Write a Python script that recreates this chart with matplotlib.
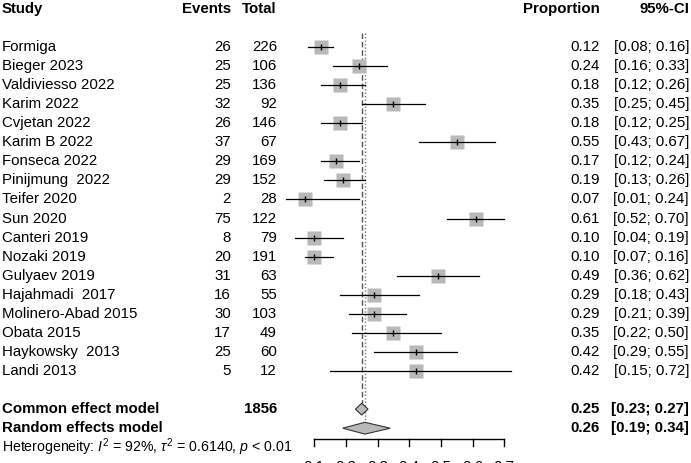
import matplotlib
matplotlib.use("Agg")
import matplotlib.pyplot as plt
from matplotlib.transforms import blended_transform_factory

# =========================
# DATOS
# =========================
studies = ["Formiga", "Bieger 2023", "Valdiviesso 2022", "Karim 2022", "Cvjetan 2022",
           "Karim B 2022", "Fonseca 2022", "Pinijmung  2022", "Teifer 2020", "Sun 2020",
           "Canteri 2019", "Nozaki 2019", "Gulyaev 2019", "Hajahmadi  2017",
           "Molinero-Abad 2015", "Obata 2015", "Haykowsky  2013", "Landi 2013"]
events = [26, 25, 25, 32, 26, 37, 29, 29, 2, 75, 8, 20, 31, 16, 30, 17, 25, 5]
totals = [226, 106, 136, 92, 146, 67, 169, 152, 28, 122, 79, 191, 63, 55, 103, 49, 60, 12]
props = [0.12, 0.24, 0.18, 0.35, 0.18, 0.55, 0.17, 0.19, 0.07, 0.61,
         0.10, 0.10, 0.49, 0.29, 0.29, 0.35, 0.42, 0.42]
ci_lo = [0.08, 0.16, 0.12, 0.25, 0.12, 0.43, 0.12, 0.13, 0.01, 0.52,
         0.04, 0.07, 0.36, 0.18, 0.21, 0.22, 0.29, 0.15]
ci_hi = [0.16, 0.33, 0.26, 0.45, 0.25, 0.67, 0.24, 0.26, 0.24, 0.70,
         0.19, 0.16, 0.62, 0.43, 0.39, 0.50, 0.55, 0.72]

total_n = 1856
common = (0.25, 0.23, 0.27)
random_ = (0.26, 0.19, 0.34)
ticks = [0.1, 0.2, 0.3, 0.4, 0.5, 0.6, 0.7]

# =========================
# FIGURA
# =========================
plt.rcParams["font.family"] = ["Liberation Sans", "DejaVu Sans"]
plt.rcParams["mathtext.fontset"] = "custom"
plt.rcParams["mathtext.rm"] = "Liberation Sans"
plt.rcParams["mathtext.it"] = "Liberation Sans:italic"

W, H = 691, 463
fig = plt.figure(figsize=(W / 100, H / 100), dpi=100)
ax = fig.add_axes([0, 0, 1, 1])
ax.axis("off")

# escala: 0.1 -> px 314.2, 0.7 -> px 504.3 ; fila 0 -> px 47, paso 19.06
ppu = (504.3 - 314.2) / 0.6
ax.set_xlim(0.1 - 314.2 / ppu, 0.1 + (W - 314.2) / ppu)
row = 19.06
ax.set_ylim((H - 47) / row, -47 / row)

tr = blended_transform_factory(ax.transAxes, ax.transData)
fs = 10.8

def col(x_px, y, s, ha, bold=False, size=fs):
    ax.text(x_px / W, y, s, transform=tr, ha=ha, va="center", fontsize=size,
            fontweight="bold" if bold else "normal")

# encabezado
hy = -2
col(2, hy, "Study", "left", True)
col(231, hy, "Events", "right", True)
col(277, hy, "Total", "right", True)
col(600, hy, "Proportion", "right", True)
col(689, hy, "95%-CI", "right", True)

# estudios
for i, s in enumerate(studies):
    col(2, i, s, "left")
    col(231, i, str(events[i]), "right")
    col(277, i, str(totals[i]), "right")
    col(600, i, f"{props[i]:.2f}", "right")
    col(689, i, f"[{ci_lo[i]:.2f}; {ci_hi[i]:.2f}]", "right")
    ax.plot([ci_lo[i], ci_hi[i]], [i, i], color="black", lw=0.9, zorder=3)
    ax.plot(props[i], i, marker="s", ms=10.3, color="#b9b9b9", mec="none", zorder=2)
    ax.plot(props[i], i, marker="|", ms=5, color="black", mew=1, zorder=4)

n = len(studies)
yc, yr = n + 1, n + 2

# lineas verticales
ax.plot([common[0], common[0]], [-0.73, yc - 0.32], color="#555555", lw=1,
        ls=(0, (4, 2)), zorder=1)
ax.plot([random_[0], random_[0]], [-0.73, yr - 0.32], color="#777777", lw=1,
        ls=(0, (1, 1.5)), zorder=1)

# modelos
col(2, yc, "Common effect model", "left", True)
col(277, yc, str(total_n), "right", True)
col(600, yc, f"{common[0]:.2f}", "right", True)
col(689, yc, f"[{common[1]:.2f}; {common[2]:.2f}]", "right", True)
col(2, yr, "Random effects model", "left", True)
col(600, yr, f"{random_[0]:.2f}", "right", True)
col(689, yr, f"[{random_[1]:.2f}; {random_[2]:.2f}]", "right", True)

for (est, lo, hi), y in [(common, yc), (random_, yr)]:
    ax.fill([lo, est, hi, est], [y, y - 0.31, y, y + 0.31], facecolor="#b9b9b9",
            edgecolor="#333333", lw=0.8, zorder=3)

col(2, yr + 0.98, r"Heterogeneity: $I^2$ = 92%, $\tau^2$ = 0.6140, $p$ < 0.01", "left",
    size=10.2)

# eje x
ya = 20.57
ax.plot([ticks[0], ticks[-1]], [ya, ya], color="black", lw=1)
for t in ticks:
    ax.plot([t, t], [ya, ya + 0.37], color="black", lw=1)
    ax.text(t, ya + 1.1, f"{t:.1f}", ha="center", va="top", fontsize=fs, clip_on=False)

fig.savefig("out.png", dpi=100)
